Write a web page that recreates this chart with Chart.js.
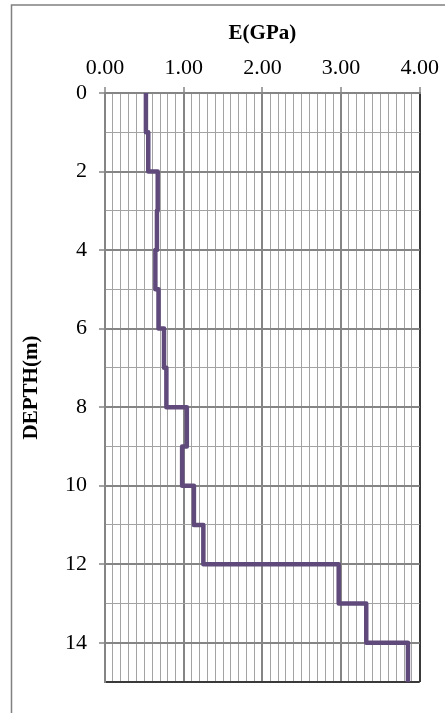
<!DOCTYPE html>
<html>
<head>
<meta charset="utf-8">
<script src="https://cdn.jsdelivr.net/npm/chart.js@4"></script>
<style>
  html, body { margin: 0; padding: 0; background: #ffffff; }
  #wrap { width: 445px; height: 713px; position: relative; }
</style>
</head>
<body>
<div id="wrap"><canvas id="c" width="445" height="713"></canvas></div>
<script>
// Layer top depths (m) and Young's modulus per layer (GPa)
const depthTops = [0, 1, 2, 3, 4, 5, 6, 7, 8, 9, 10, 11, 12, 13, 14];
const modulusGPa = [0.52, 0.55, 0.67, 0.66, 0.64, 0.68, 0.75, 0.78, 1.04, 0.98, 1.13, 1.25, 2.97, 3.32, 3.85];
const bottomDepth = 15;
const xTickLabels = ['0.00', '1.00', '2.00', '3.00', '4.00'];
const yTickLabels = ['0', '2', '4', '6', '8', '10', '12', '14'];

const points = depthTops.map((d, i) => ({ x: modulusGPa[i], y: d }));
points.push({ x: modulusGPa[modulusGPa.length - 1], y: bottomDepth });

const FONT = "'Liberation Serif', 'Times New Roman', serif";
const isInt = v => Math.abs(v - Math.round(v)) < 1e-6;

const frame = {
  id: 'frame',
  beforeDraw(chart) {
    const ctx = chart.ctx;
    ctx.save();
    ctx.fillStyle = '#ffffff';
    ctx.fillRect(0, 0, chart.width, chart.height);
    ctx.strokeStyle = '#808080';
    ctx.lineWidth = 1.5;
    ctx.strokeRect(11.5, 5, 600, 900);
    ctx.restore();
  }
};

new Chart(document.getElementById('c'), {
  type: 'line',
  data: {
    datasets: [{
      data: points,
      borderColor: '#604A7B',
      borderWidth: 4.5,
      pointRadius: 0,
      stepped: 'after',
      fill: false,
      borderJoinStyle: 'round',
      borderCapStyle: 'butt'
    }]
  },
  options: {
    responsive: false,
    animation: false,
    devicePixelRatio: 1,
    layout: { padding: { left: 0, top: 0, right: 23, bottom: 31 } },
    plugins: { legend: { display: false }, tooltip: { enabled: false } },
    scales: {
      x: {
        type: 'linear',
        position: 'top',
        min: 0, max: 4,
        afterFit(s) { s.height = 93; },
        title: {
          display: true, text: 'E(GPa)', color: '#000',
          font: { family: FONT, size: 21, weight: 'bold' },
          padding: { top: 21, bottom: 0 }
        },
        ticks: {
          stepSize: 0.1, maxTicksLimit: 100, autoSkip: false, maxRotation: 0,
          padding: 6, color: '#000',
          font: { family: FONT, size: 22 },
          callback: v => isInt(v) ? xTickLabels[Math.round(v)] : ''
        },
        grid: {
          tickLength: 6,
          color: c => {
            const v = c.tick ? c.tick.value : 0;
            if (Math.abs(v - 4) < 1e-6) return '#3a3a3a';
            return isInt(v) ? '#858585' : '#a3a3a3';
          },
          lineWidth: c => {
            const v = c.tick ? c.tick.value : 0;
            return isInt(v) ? 2 : 1;
          },
          tickColor: c => (c.tick && isInt(c.tick.value)) ? '#858585' : 'rgba(0,0,0,0)',
          tickWidth: 1.5
        },
        border: { color: '#858585', width: 2 }
      },
      y: {
        type: 'linear',
        reverse: true,
        min: 0, max: 15,
        afterFit(s) { s.width = 105; },
        title: {
          display: true, text: 'DEPTH(m)', color: '#000',
          font: { family: FONT, size: 21, weight: 'bold' },
          padding: { top: 19, bottom: 0 }
        },
        ticks: {
          stepSize: 1, autoSkip: false,
          padding: 12, color: '#000',
          font: { family: FONT, size: 22 },
          callback: v => (v % 2 === 0 && v < 15) ? yTickLabels[v / 2] : ''
        },
        grid: {
          tickLength: 6,
          color: c => {
            const v = c.tick ? c.tick.value : 0;
            if (v === 15) return '#3a3a3a';
            return v % 2 === 0 ? '#858585' : '#a3a3a3';
          },
          lineWidth: c => {
            const v = c.tick ? c.tick.value : 0;
            return (v % 2 === 0 || v === 15) ? 2 : 1;
          },
          tickColor: c => (c.tick && c.tick.value % 2 === 0 && c.tick.value < 15) ? '#858585' : 'rgba(0,0,0,0)',
          tickWidth: 1.5
        },
        border: { color: '#858585', width: 2 }
      }
    }
  },
  plugins: [frame]
});
</script>
</body>
</html>
